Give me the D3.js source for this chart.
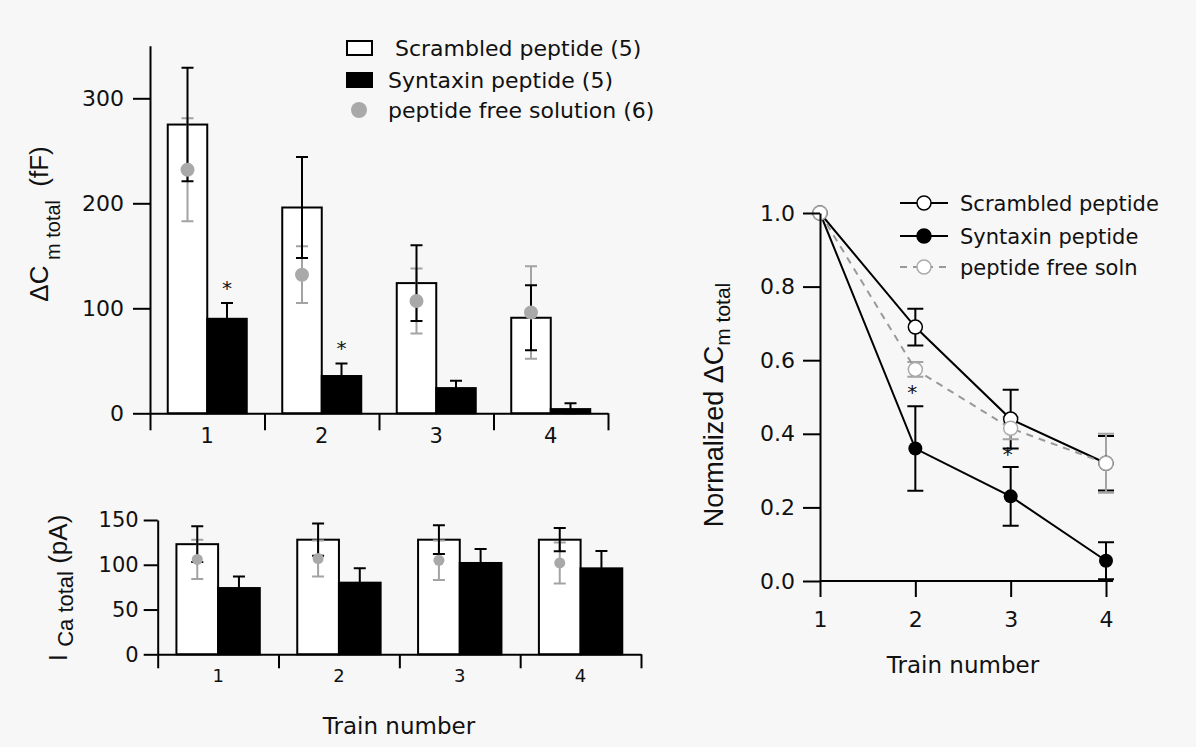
<!DOCTYPE html>
<html>
<head>
<meta charset="utf-8">
<script src="https://cdn.jsdelivr.net/npm/d3@7"></script>
<style>
  body { margin: 0; background: #f7f7f7; }
  svg { display: block; }
</style>
</head>
<body>
<svg id="chart"></svg>
<script>
"use strict";

const W = 1196;
const H = 747;

// train numbers (x categories)
const trains = ["1", "2", "3", "4"];

// top-left: delta Cm total (fF)
const cmScrambled    = [275, 196, 124, 91];
const cmScrambledErr = [54, 48, 36, 31];
const cmSyntaxin     = [90, 35.5, 24, 4];
const cmSyntaxinErr  = [15, 12, 7, 5.5];
const cmFree         = [232, 132, 107, 96];
const cmFreeErr      = [49, 27, 31, 44];
const cmStars        = [true, true, false, false];
const cmTicks        = [0, 100, 200, 300];

// bottom-left: I Ca total (pA)
const caScrambled    = [123, 128, 128, 128];
const caScrambledErr = [20, 18, 16, 13];
const caSyntaxin     = [74, 80, 102, 96];
const caSyntaxinErr  = [13, 16, 15.5, 19.5];
const caFree         = [106, 107, 105, 102];
const caFreeErr      = [22, 20, 22, 23];
const caStars        = [false, false, false, false];
const caTicks        = [0, 50, 100, 150];

// right: normalized delta Cm total
const nScrambled    = [1, 0.69, 0.44, 0.32];
const nScrambledErr = [0, 0.05, 0.08, 0.074];
const nSyntaxin     = [1, 0.36, 0.23, 0.055];
const nSyntaxinErr  = [0, 0.115, 0.08, 0.05];
const nFree         = [1, 0.575, 0.415, 0.32];
const nFreeErr      = [0, 0.02, 0.03, 0.08];
const nStars        = [false, true, true, false];
const nTicks        = [0, 0.2, 0.4, 0.6, 0.8, 1.0];

const barLegend  = [" Scrambled peptide (5)", "Syntaxin peptide (5)", "peptide free solution (6)"];
const lineLegend = ["Scrambled peptide", "Syntaxin peptide", "peptide free soln"];

const GREY_DOT = '#a9a9a9';
const GREY_LINE = '#a3a3a3';

const svg = d3.select('#chart')
    .attr('width', W)
    .attr('height', H);

svg.append('rect')
    .attr('width', W)
    .attr('height', H)
    .attr('fill', '#f7f7f7');

function styleAxis(sel, size){
	sel.attr('font-family', '"DejaVu Sans", sans-serif')
		.attr('font-size', size);
	sel.selectAll('path, line')
		.attr('stroke', '#000')
		.attr('stroke-width', 2);
	sel.selectAll('text').attr('fill', '#111');
}

// one path per error bar: top cap, stem, bottom cap
function errBars(g, xs, vals, errs, y, cap, color){
	const rows = vals.map((v, i) => ({x: xs(i), hi: y(v + errs[i]), lo: y(Math.max(0, v - errs[i])), e: errs[i]}))
		.filter(d => d.e > 0);
	g.append('g')
		.selectAll('path')
		.data(rows)
		.join('path')
		.attr('d', d => `M${d.x - cap},${d.hi}H${d.x + cap}M${d.x},${d.hi}V${d.lo}M${d.x - cap},${d.lo}H${d.x + cap}`)
		.attr('fill', 'none')
		.attr('stroke', color)
		.attr('stroke-width', 2);
}

function barPanel(o){
	const g = svg.append('g');
	const band = d3.scaleBand().domain(trains).range([o.x0, o.x1]);
	const edge = d3.scaleLinear().domain([0, trains.length]).range([o.x0, o.x1]);
	const y = d3.scaleLinear().domain([0, o.yMax]).range([o.y0, o.yTop]);
	const bw = band.bandwidth() * 0.345;
	const cx = i => band(trains[i]) + band.bandwidth() / 2;

	g.selectAll('rect.scr')
		.data(o.scr)
		.join('rect')
		.attr('class', 'scr')
		.attr('x', (d, i) => cx(i) - bw)
		.attr('y', d => y(d))
		.attr('width', bw)
		.attr('height', d => o.y0 - y(d))
		.attr('fill', '#fff')
		.attr('stroke', '#000')
		.attr('stroke-width', 2);

	g.selectAll('rect.syn')
		.data(o.syn)
		.join('rect')
		.attr('class', 'syn')
		.attr('x', (d, i) => cx(i))
		.attr('y', d => y(d))
		.attr('width', bw)
		.attr('height', d => o.y0 - y(d))
		.attr('fill', '#000')
		.attr('stroke', '#000')
		.attr('stroke-width', 2);

	errBars(g, i => cx(i) - bw / 2, o.free, o.freeErr, y, 6, GREY_LINE);
	errBars(g, i => cx(i) - bw / 2, o.scr, o.scrErr, y, 6, '#000');
	errBars(g, i => cx(i) + bw / 2, o.syn, o.synErr, y, 6, '#000');

	g.selectAll('circle.free')
		.data(o.free)
		.join('circle')
		.attr('class', 'free')
		.attr('cx', (d, i) => cx(i) - bw / 2)
		.attr('cy', d => y(d))
		.attr('r', o.dotR)
		.attr('fill', GREY_DOT);

	g.selectAll('text.star')
		.data(o.syn.map((v, i) => ({v: v + o.synErr[i], i: i, s: o.stars[i]})).filter(d => d.s))
		.join('text')
		.attr('class', 'star')
		.attr('x', d => cx(d.i) + bw / 2)
		.attr('y', d => y(d.v) - 8)
		.attr('text-anchor', 'middle')
		.attr('font-family', '"DejaVu Sans", sans-serif')
		.attr('font-size', 20)
		.attr('fill', '#111')
		.text('*');

	const yAx = g.append('g')
		.attr('transform', `translate(${o.x0},0)`)
		.call(d3.axisLeft(y).tickValues(o.yTicks).tickSize(o.tick).tickPadding(o.yPad).tickSizeOuter(0));
	styleAxis(yAx, o.yFont);

	const xEdge = g.append('g')
		.attr('transform', `translate(0,${o.y0})`)
		.call(d3.axisBottom(edge).tickValues(d3.range(trains.length + 1)).tickFormat('').tickSize(o.tick).tickSizeOuter(0));
	styleAxis(xEdge, o.xFont);

	const xLab = g.append('g')
		.attr('transform', `translate(0,${o.y0})`)
		.call(d3.axisBottom(band).tickSize(0).tickPadding(o.xPad));
	xLab.select('.domain').remove();
	styleAxis(xLab, o.xFont);
}

barPanel({
	x0: 150, x1: 608, y0: 413.3, yTop: 45.8, yMax: 350,
	scr: cmScrambled, scrErr: cmScrambledErr,
	syn: cmSyntaxin, synErr: cmSyntaxinErr,
	free: cmFree, freeErr: cmFreeErr, stars: cmStars,
	yTicks: cmTicks, tick: 17, yPad: 9, xPad: 15, yFont: 22, xFont: 21, dotR: 7
});

barPanel({
	x0: 157.7, x1: 641, y0: 654.3, yTop: 520, yMax: 150,
	scr: caScrambled, scrErr: caScrambledErr,
	syn: caSyntaxin, synErr: caSyntaxinErr,
	free: caFree, freeErr: caFreeErr, stars: caStars,
	yTicks: caTicks, tick: 14, yPad: 5, xPad: 15, yFont: 21, xFont: 18, dotR: 5.5
});

// top-left legend
const legTop = svg.append('g').attr('font-family', '"DejaVu Sans", sans-serif').attr('font-size', 22);
const legRowsTop = [48, 80, 110];
legTop.append('rect').attr('x', 347).attr('y', legRowsTop[0] - 7).attr('width', 25).attr('height', 14)
	.attr('fill', '#fff').attr('stroke', '#000').attr('stroke-width', 2);
legTop.append('rect').attr('x', 347).attr('y', legRowsTop[1] - 7).attr('width', 25).attr('height', 14)
	.attr('fill', '#000').attr('stroke', '#000').attr('stroke-width', 2);
legTop.append('circle').attr('cx', 359).attr('cy', legRowsTop[2]).attr('r', 8).attr('fill', GREY_DOT);
legTop.selectAll('text')
	.data(barLegend)
	.join('text')
	.attr('x', 388)
	.attr('y', (d, i) => legRowsTop[i] + 7.5)
	.attr('fill', '#111')
	.style('white-space', 'pre')
	.text(d => d);

// y labels for bar panels
const lab1 = svg.append('text')
	.attr('transform', 'translate(48,224) rotate(-90)')
	.attr('text-anchor', 'middle')
	.attr('font-family', '"Liberation Sans", Arial, sans-serif')
	.attr('font-size', 26)
	.attr('fill', '#111')
	.style('white-space', 'pre');
lab1.append('tspan').text('\u0394C');
lab1.append('tspan').attr('font-size', 20).attr('dy', 12).text(' m total');
lab1.append('tspan').attr('dy', -12).attr('dx', 6).text(' (fF)');

const lab2 = svg.append('text')
	.attr('transform', 'translate(67,588) rotate(-90)')
	.attr('text-anchor', 'middle')
	.attr('font-family', '"Liberation Sans", Arial, sans-serif')
	.attr('font-size', 26)
	.attr('fill', '#111')
	.style('white-space', 'pre');
lab2.append('tspan').text('I ');
lab2.append('tspan').attr('font-size', 22).attr('dy', 6).text('Ca total');
lab2.append('tspan').attr('dy', -6).text(' (pA)');

svg.append('text')
	.attr('x', 399)
	.attr('y', 734)
	.attr('text-anchor', 'middle')
	.attr('font-family', '"DejaVu Sans", sans-serif')
	.attr('font-size', 23)
	.attr('fill', '#111')
	.text('Train number');

// ---- right panel: normalized ----
const gR = svg.append('g');
const xR = d3.scaleLinear().domain([1, 4]).range([820, 1106]);
const yR = d3.scaleLinear().domain([0, 1]).range([581, 213]);
const lineR = d3.line().x((d, i) => xR(i + 1)).y(d => yR(d));

errBars(gR, i => xR(i + 1), nScrambled, nScrambledErr, yR, 8, '#000');
errBars(gR, i => xR(i + 1), nSyntaxin, nSyntaxinErr, yR, 8, '#000');
errBars(gR, i => xR(i + 1), nFree, nFreeErr, yR, 8, GREY_LINE);

gR.append('path').datum(nScrambled).attr('d', lineR)
	.attr('fill', 'none').attr('stroke', '#000').attr('stroke-width', 2);
gR.append('path').datum(nSyntaxin).attr('d', lineR)
	.attr('fill', 'none').attr('stroke', '#000').attr('stroke-width', 2);
gR.append('path').datum(nFree).attr('d', lineR)
	.attr('fill', 'none').attr('stroke', '#999').attr('stroke-width', 2).attr('stroke-dasharray', '7,6');

gR.selectAll('circle.scr').data(nScrambled).join('circle')
	.attr('class', 'scr')
	.attr('cx', (d, i) => xR(i + 1)).attr('cy', d => yR(d)).attr('r', 7)
	.attr('fill', '#fff').attr('stroke', '#000').attr('stroke-width', 1.5);
gR.selectAll('circle.syn').data(nSyntaxin).join('circle')
	.attr('class', 'syn')
	.attr('cx', (d, i) => xR(i + 1)).attr('cy', d => yR(d)).attr('r', 7)
	.attr('fill', '#000');
gR.selectAll('circle.free').data(nFree).join('circle')
	.attr('class', 'free')
	.attr('cx', (d, i) => xR(i + 1)).attr('cy', d => yR(d)).attr('r', 7)
	.attr('fill', '#fff').attr('stroke', '#aaa').attr('stroke-width', 1.5);

// stars sit between free-soln lower cap and syntaxin upper cap
gR.selectAll('text.star')
	.data(nStars.map((s, i) => ({s: s, i: i})).filter(d => d.s))
	.join('text')
	.attr('class', 'star')
	.attr('x', d => xR(d.i + 1) - 3)
	.attr('y', d => (yR(nFree[d.i] - nFreeErr[d.i]) + yR(nSyntaxin[d.i] + nSyntaxinErr[d.i])) / 2 + 8)
	.attr('text-anchor', 'middle')
	.attr('font-family', '"DejaVu Sans", sans-serif')
	.attr('font-size', 20)
	.attr('fill', '#111')
	.text('*');

const yAxR = gR.append('g')
	.attr('transform', 'translate(820,0)')
	.call(d3.axisLeft(yR).tickValues(nTicks).tickFormat(d3.format('.1f')).tickSize(17).tickPadding(8).tickSizeOuter(0));
styleAxis(yAxR, 22);

const xAxR = gR.append('g')
	.attr('transform', 'translate(0,581)')
	.call(d3.axisBottom(xR).tickValues([1, 2, 3, 4]).tickFormat(d3.format('d')).tickSize(16).tickPadding(14).tickSizeOuter(0));
styleAxis(xAxR, 22);
xAxR.select('.domain').attr('d', `M${xR(1)},0H${xR(4) + 7}`);

svg.append('text')
	.attr('x', 963)
	.attr('y', 673)
	.attr('text-anchor', 'middle')
	.attr('font-family', '"DejaVu Sans", sans-serif')
	.attr('font-size', 23)
	.attr('fill', '#111')
	.text('Train number');

const lab3 = svg.append('text')
	.attr('transform', 'translate(723,405) rotate(-90)')
	.attr('text-anchor', 'middle')
	.attr('font-family', '"Liberation Sans", Arial, sans-serif')
	.attr('font-size', 27)
	.attr('fill', '#111');
lab3.append('tspan').text('Normalized \u0394C');
lab3.append('tspan').attr('font-size', 21).attr('dy', 7).text('m total');

// right legend
const legR = svg.append('g').attr('font-family', '"DejaVu Sans", sans-serif').attr('font-size', 21);
const legRowsR = [203, 236, 267];
const legStyle = [
	{stroke: '#000', dash: null, fill: '#fff', cstroke: '#000'},
	{stroke: '#000', dash: null, fill: '#000', cstroke: '#000'},
	{stroke: '#999', dash: '7,6', fill: '#fff', cstroke: '#aaa'}
];
const legItem = legR.selectAll('g')
	.data(lineLegend)
	.join('g')
	.attr('transform', (d, i) => `translate(0,${legRowsR[i]})`);
legItem.append('line')
	.attr('x1', 900).attr('x2', 948)
	.attr('stroke', (d, i) => legStyle[i].stroke)
	.attr('stroke-dasharray', (d, i) => legStyle[i].dash)
	.attr('stroke-width', 2);
legItem.append('circle')
	.attr('cx', 924).attr('r', 7)
	.attr('fill', (d, i) => legStyle[i].fill)
	.attr('stroke', (d, i) => legStyle[i].cstroke)
	.attr('stroke-width', 1.5);
legItem.append('text')
	.attr('x', 960).attr('y', 8)
	.attr('fill', '#111')
	.text(d => d);
</script>
</body>
</html>
